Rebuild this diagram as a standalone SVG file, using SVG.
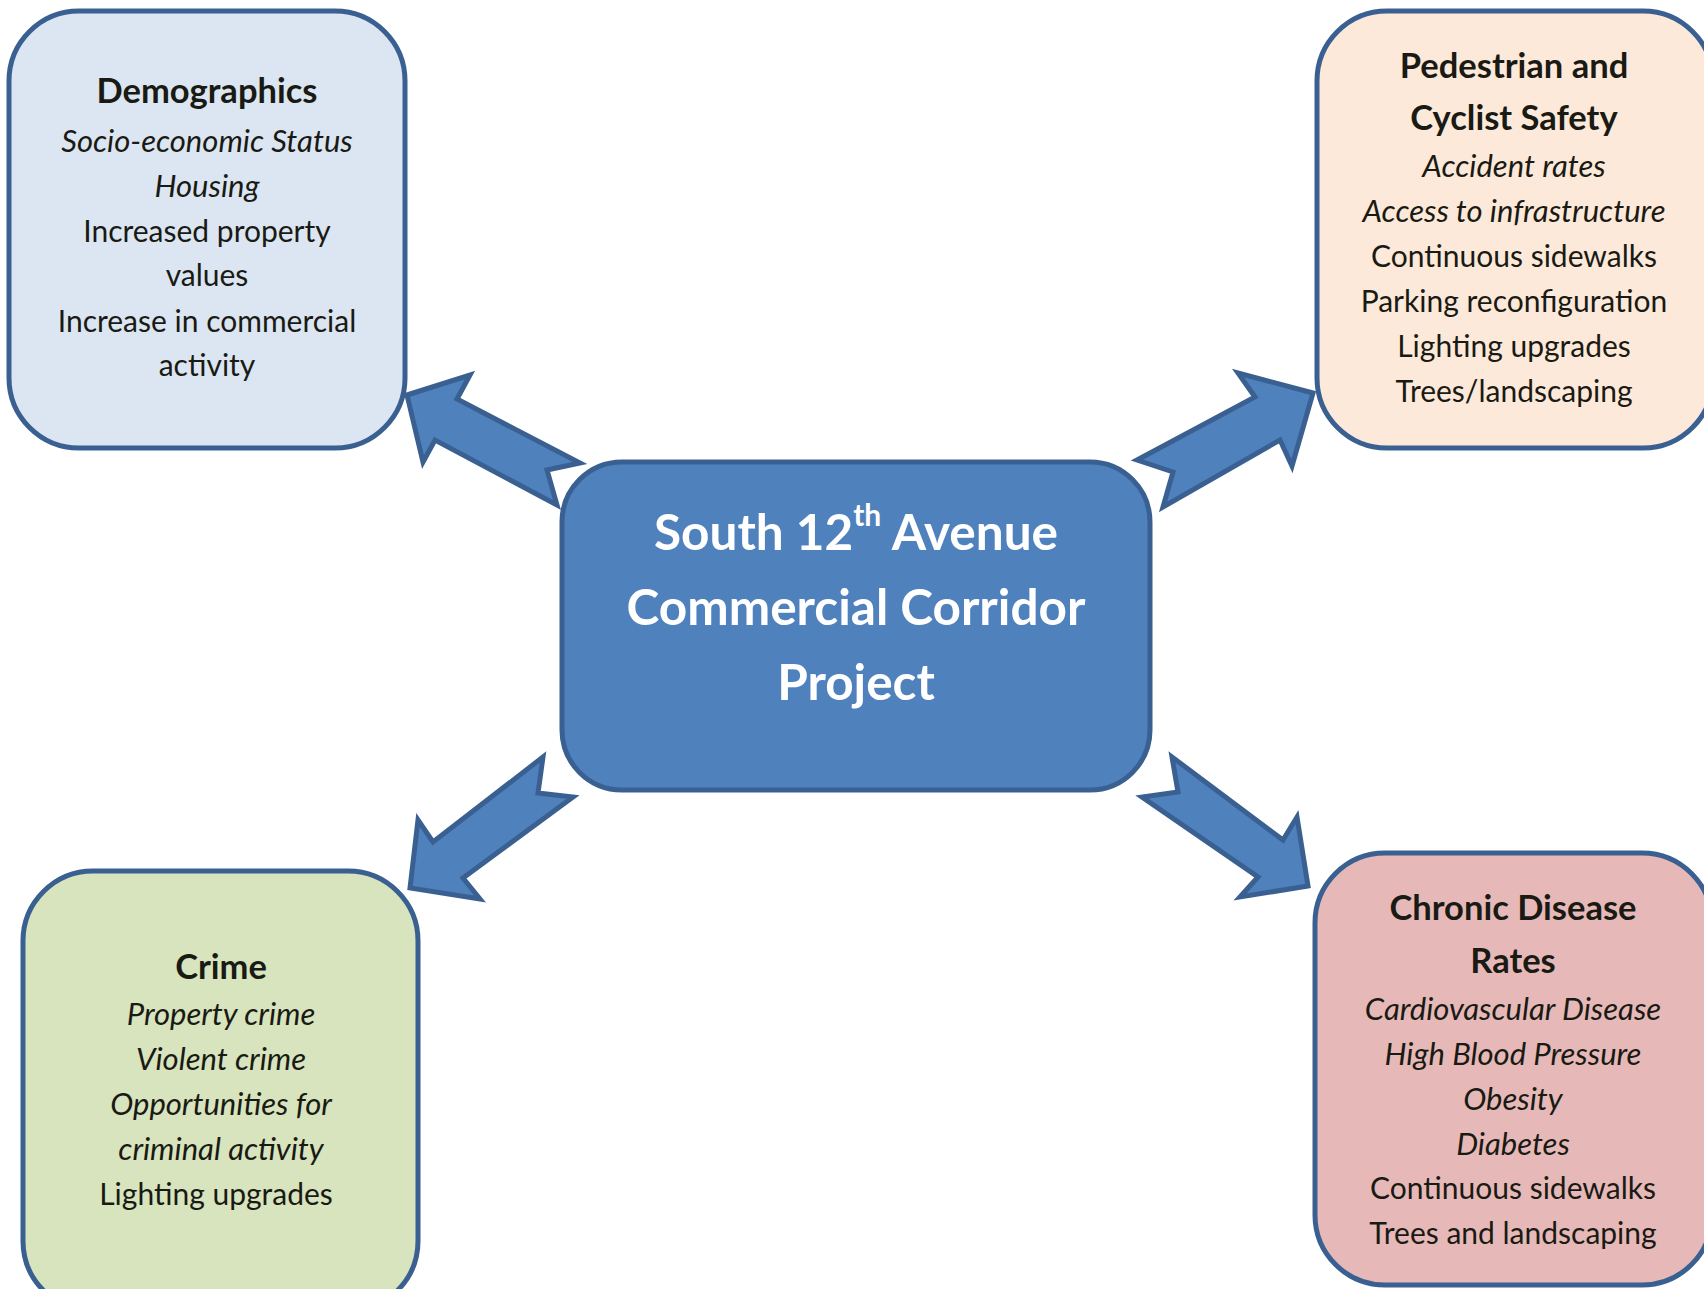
<svg xmlns="http://www.w3.org/2000/svg" width="1704" height="1289" viewBox="0 0 1704 1289">
  <style>
    .box { stroke: #3A6092; stroke-width: 5; }
    .arrow { fill: #4F81BD; stroke: #3A6092; stroke-width: 5; stroke-linejoin: miter; stroke-miterlimit: 10; }
    text { font-family: Lato, "Open Sans", sans-serif; fill: #1A1A14; text-anchor: middle; }
    .title { font-weight: bold; font-size: 34.5px; }
    .item { font-size: 30px; }
    .it { font-style: italic; font-size: 31px; }
    .main { font-weight: bold; font-size: 49.5px; fill: #FFFFFF; }
    .sup { font-weight: bold; font-size: 30px; fill: #FFFFFF; }
  </style>
  <rect width="1704" height="1289" fill="#FFFFFF"/>

  <!-- Demographics -->
  <g id="demographics">
    <rect class="box" x="9" y="11" width="396" height="437" rx="70" fill="#DCE6F2"/>
    <text class="title" x="207" y="103">Demographics</text>
    <text class="item it" x="207" y="152">Socio-economic Status</text>
    <text class="item it" x="207" y="197">Housing</text>
    <text class="item" x="207" y="242">Increased property</text>
    <text class="item" x="207" y="286">values</text>
    <text class="item" x="207" y="332">Increase in commercial</text>
    <text class="item" x="207" y="376">activity</text>
  </g>

  <!-- Pedestrian and Cyclist Safety -->
  <g id="pedestrian-safety">
    <rect class="box" x="1317" y="11" width="396" height="437" rx="70" fill="#FDE9D9"/>
    <text class="title" x="1514" y="78">Pedestrian and</text>
    <text class="title" x="1514" y="130">Cyclist Safety</text>
    <text class="item it" x="1514" y="177">Accident rates</text>
    <text class="item it" x="1514" y="222">Access to infrastructure</text>
    <text class="item" x="1514" y="267">Continuous sidewalks</text>
    <text class="item" x="1514" y="312">Parking reconfiguration</text>
    <text class="item" x="1514" y="357">Lighting upgrades</text>
    <text class="item" x="1514" y="402">Trees/landscaping</text>
  </g>

  <!-- Crime -->
  <g id="crime">
    <rect class="box" x="23" y="871" width="395" height="440" rx="70" fill="#D7E4BD"/>
    <text class="title" x="221" y="979">Crime</text>
    <text class="item it" x="221" y="1025">Property crime</text>
    <text class="item it" x="221" y="1070">Violent crime</text>
    <text class="item it" x="221" y="1115">Opportunities for</text>
    <text class="item it" x="221" y="1160">criminal activity</text>
    <text class="item" x="216" y="1205">Lighting upgrades</text>
  </g>

  <!-- Chronic Disease Rates -->
  <g id="chronic-disease">
    <rect class="box" x="1315" y="853" width="397" height="432" rx="70" fill="#E6B9B8"/>
    <text class="title" x="1513" y="920">Chronic Disease</text>
    <text class="title" x="1513" y="973">Rates</text>
    <text class="item it" x="1513" y="1020">Cardiovascular Disease</text>
    <text class="item it" x="1513" y="1065">High Blood Pressure</text>
    <text class="item it" x="1513" y="1110">Obesity</text>
    <text class="item it" x="1513" y="1155">Diabetes</text>
    <text class="item" x="1513" y="1199">Continuous sidewalks</text>
    <text class="item" x="1513" y="1244">Trees and landscaping</text>
  </g>

  <!-- Notched block arrows radiating from the project box -->
  <g id="connectors">
    <polygon class="arrow" points="407,395 470,375 457,399 580,463 547,470 557,505 435,440 423,462"/>
    <polygon class="arrow" points="1313,393 1238,373 1255,397 1137,460 1173,472 1163,507 1280,440 1292,466"/>
    <polygon class="arrow" points="410,888 418,820 433,842 543,757 538,793 573,797 463,878 480,899"/>
    <polygon class="arrow" points="1308,886 1240,897 1258,877 1142,797 1178,792 1172,757 1283,840 1297,817"/>
  </g>

  <!-- Central project box -->
  <g id="project">
    <rect class="box" x="562" y="462" width="588" height="328" rx="60" fill="#4F81BD"/>
    <text class="main" x="856" y="550"><tspan>South 12</tspan><tspan class="sup" dy="-24">th</tspan><tspan dy="24"> Avenue</tspan></text>
    <text class="main" x="856" y="625">Commercial Corridor</text>
    <text class="main" x="856" y="700">Project</text>
  </g>
</svg>
